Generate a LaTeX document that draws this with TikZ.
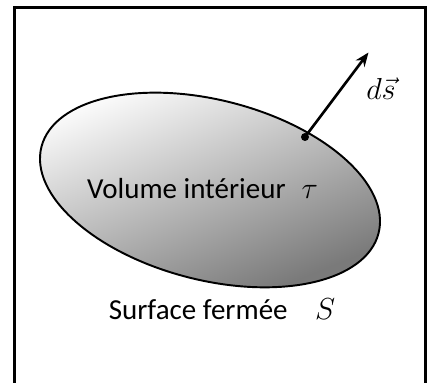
\documentclass[tikz,border=0pt]{standalone}
\usepackage{fontspec}
\setmainfont{Carlito}
\usetikzlibrary{arrows.meta, positioning}

\begin{document}
\begin{tikzpicture}[
    txt/.style={font=\fontsize{16.5}{19}\selectfont, anchor=base},
    bullet/.style={circle, fill=black, inner sep=0pt, minimum size=0.16cm},
    vecarrow/.style={-{Stealth[length=0.28cm, width=0.22cm]}, line width=1.5pt}
]
    \useasboundingbox (0,0) rectangle (8.7,7.66);
    % cadre
    \draw[line width=1.7pt] (0.29,-0.5) -- (0.29,7.50) -- (8.50,7.50) -- (8.50,-0.5);
    % volume
    \shade[draw=black, line width=1.1pt, top color=white, bottom color=black!52, shading angle=22]
        [rotate around={-14.4:(4.20,3.86)}] (4.20,3.86) ellipse (3.48 and 1.80);
    \node[txt] (vol) at (4.05,3.68) {Volume intérieur\hspace{0.55em}$\tau$};
    \node[txt] (surf) at (4.44,1.26) {Surface fermée\hspace{0.95em}$S$};
    % vecteur surface
    \node[bullet] (m) at (6.10,4.92) {};
    \coordinate (tip) at (7.37,6.61);
    \draw[vecarrow] (m.center) -- (tip);
    \node[txt, anchor=center, font=\fontsize{17}{20}\selectfont] (ds) at (7.62,5.88) {$d\vec{s}$};
\end{tikzpicture}
\end{document}
